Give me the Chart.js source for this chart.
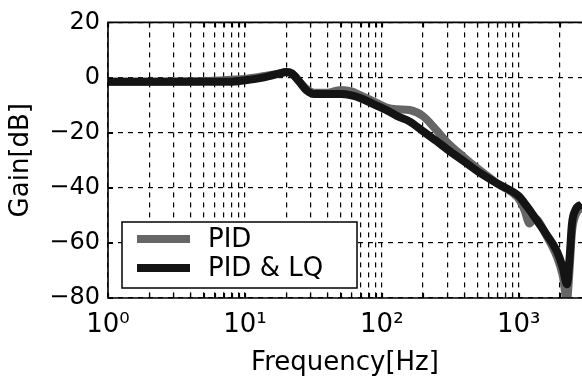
<!DOCTYPE html>
<html lang="en">
<head>
<meta charset="UTF-8">
<title>Gain vs Frequency</title>
<script src="https://cdn.jsdelivr.net/npm/chart.js"></script>
<style>
  body, html { margin: 0; padding: 0; overflow: hidden; background: #fff; }
  canvas { display: block; }
</style>
</head>
<body>
<canvas id="gainChart" width="582" height="385"></canvas>
<script>
// values
const freqHz    = [1, 2, 5, 8, 10, 12, 15, 18, 20, 22, 25, 28, 32, 40, 50, 60, 70, 90, 110, 130, 160, 200, 250, 300, 400, 500, 700, 1000, 1100, 1200, 1300, 1600, 1900, 2100, 2250, 2350, 2450, 2600, 2900];
const gainPid   = [-1.5, -1.5, -1.3, -0.8, -0.5, 0, 0.8, 1.5, 2, 1.5, -1.5, -4, -5.5, -5.5, -4.5, -5, -6.5, -9, -11, -11.5, -11.8, -14, -19, -23.5, -29, -33, -38.5, -44, -48, -53, -51, -57.5, -65, -72, -81, -70, -56, -50, -47];
const gainPidLq = [-1.5, -1.5, -1.5, -1.5, -1, -0.5, 0.5, 1.5, 2, 1.5, -1.5, -4.5, -6, -6, -6, -6.5, -7.5, -10, -12, -14, -16, -19.5, -23, -26, -30.5, -34, -38.5, -43, -45.5, -48, -50.5, -57, -63, -69, -75, -66, -53, -48, -46];
const seriesNames = ['PID', 'PID & LQ'];
const seriesColors = ['#666666', '#141414'];
const xMajorTicks = [1, 10, 100, 1000];
const xTickLabels = ['10\u2070', '10\u00b9', '10\u00b2', '10\u00b3'];
const yTickValues = [20, 0, -20, -40, -60, -80];

const FONT = '"DejaVu Sans", sans-serif';
const X_MAX = 2900;

// grid lines at 1..9 of every decade
const xGridValues = [];
xMajorTicks.forEach(d => {
    for (let m = 1; m <= 9; m++) if (d * m <= X_MAX) xGridValues.push(d * m);
});

const framePlugin = {
    id: 'frame',
    afterDatasetsDraw(chart) {
        const { ctx, chartArea: a, scales: { x, y } } = chart;
        ctx.save();
        ctx.setLineDash([]);
        ctx.strokeStyle = '#000';
        ctx.lineWidth = 1.2;
        ctx.beginPath();
        x.ticks.forEach(t => {
            const px = Math.round(x.getPixelForValue(t.value)) + 0.5;
            ctx.moveTo(px, a.bottom); ctx.lineTo(px, a.bottom - 5);
            ctx.moveTo(px, a.top); ctx.lineTo(px, a.top + 5);
        });
        y.ticks.forEach(t => {
            const py = Math.round(y.getPixelForValue(t.value)) + 0.5;
            ctx.moveTo(a.left, py); ctx.lineTo(a.left + 5, py);
        });
        ctx.stroke();
        ctx.lineWidth = 1.6;
        ctx.beginPath();
        ctx.moveTo(a.right + 2, a.top);
        ctx.lineTo(a.left, a.top);
        ctx.lineTo(a.left, a.bottom);
        ctx.lineTo(a.right + 2, a.bottom);
        ctx.stroke();

        // legend box inside the plot
        const bx = a.left + 14, bw = 235, bh = 66, by = a.bottom - 10 - bh;
        ctx.fillStyle = '#fff';
        ctx.fillRect(bx, by, bw, bh);
        ctx.lineWidth = 1.5;
        ctx.strokeRect(bx, by, bw, bh);
        ctx.font = '26px ' + FONT;
        ctx.textBaseline = 'middle';
        ctx.fillStyle = '#000';
        chart.data.datasets.forEach((ds, i) => {
            const ry = by + 17 + i * 29;
            ctx.strokeStyle = ds.borderColor;
            ctx.lineWidth = 8;
            ctx.beginPath();
            ctx.moveTo(bx + 15, ry); ctx.lineTo(bx + 68, ry);
            ctx.stroke();
            ctx.fillText(ds.label, bx + 86, ry + 1);
        });
        ctx.restore();
    }
};

const toPoints = vals => freqHz.map((f, i) => ({ x: f, y: vals[i] }));

new Chart(document.getElementById('gainChart'), {
    type: 'line',
    data: {
        datasets: [
            { label: seriesNames[0], data: toPoints(gainPid), borderColor: seriesColors[0], borderWidth: 8, order: 2 },
            { label: seriesNames[1], data: toPoints(gainPidLq), borderColor: seriesColors[1], borderWidth: 8, order: 1 }
        ]
    },
    options: {
        responsive: false,
        animation: false,
        devicePixelRatio: 1,
        layout: { padding: { top: 20, right: 0, left: 0, bottom: 0 } },
        elements: {
            point: { radius: 0 },
            line: { cubicInterpolationMode: 'monotone', borderJoinStyle: 'round', borderCapStyle: 'butt' }
        },
        plugins: { legend: { display: false }, tooltip: { enabled: false } },
        scales: {
            x: {
                type: 'logarithmic',
                min: 1,
                max: X_MAX,
                afterBuildTicks: s => { s.ticks = xGridValues.map(v => ({ value: v })); },
                afterFit: s => { s.height = 87; },
                ticks: {
                    autoSkip: false, maxRotation: 0, minRotation: 0, padding: 12,
                    color: '#000', font: { family: FONT, size: 26 },
                    callback: v => { const i = xMajorTicks.indexOf(v); return i >= 0 ? xTickLabels[i] : ''; }
                },
                grid: { color: '#000', lineWidth: 1.2, drawTicks: false },
                border: { display: false, dash: [5, 5] },
                title: { display: true, text: 'Frequency[Hz]', color: '#000', font: { family: FONT, size: 26 }, padding: { top: 0, bottom: 6 } }
            },
            y: {
                min: -80,
                max: 20,
                afterBuildTicks: s => { s.ticks = yTickValues.map(v => ({ value: v })); },
                afterFit: s => { s.width = 108; },
                ticks: {
                    padding: 8, color: '#000', font: { family: FONT, size: 24 },
                    callback: v => String(v).replace('-', '\u2212')
                },
                grid: { color: '#000', lineWidth: 1.2, drawTicks: false },
                border: { display: false, dash: [5, 5] },
                title: { display: true, text: 'Gain[dB]', color: '#000', font: { family: FONT, size: 26 }, padding: { top: 6, bottom: 0 } }
            }
        }
    },
    plugins: [framePlugin]
});
</script>
</body>
</html>
